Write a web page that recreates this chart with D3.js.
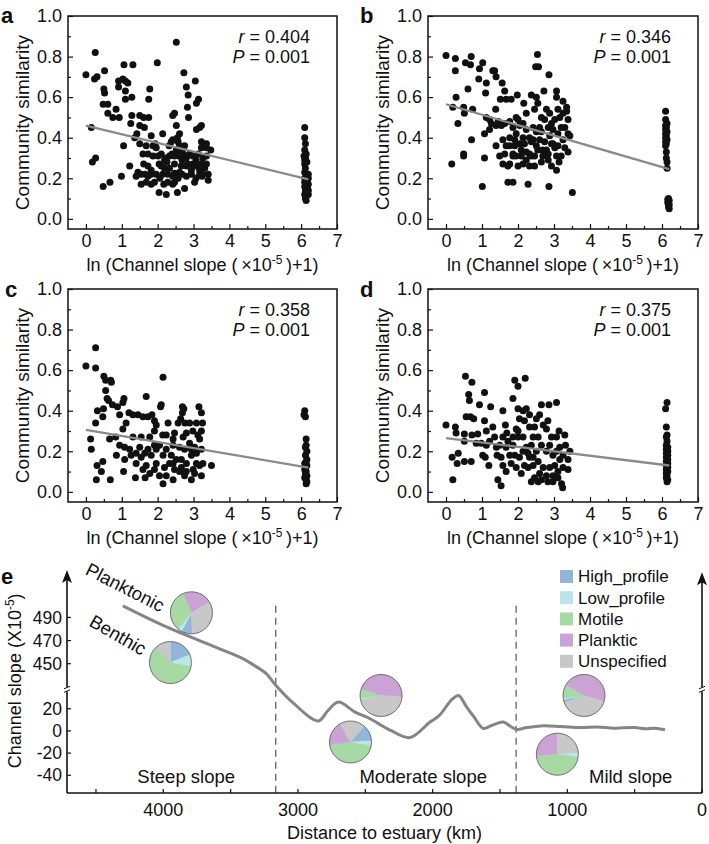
<!DOCTYPE html>
<html><head><meta charset="utf-8">
<script src="https://cdn.jsdelivr.net/npm/d3@7"></script>
<style>
body{margin:0;background:#fff}
svg{display:block}
text{font-family:Arial,"Liberation Sans",Helvetica,sans-serif;fill:#111}
</style></head>
<body><svg id="chart" width="709" height="844"></svg>
<script>
// ---------------- DATA ----------------
const xTicks = [0,1,2,3,4,5,6,7];
const yTicks = [0,0.2,0.4,0.6,0.8,1.0];

const panelA = [[0,0.71],[0.26,0.82],[0.24,0.69],[0.31,0.70],[0.52,0.73],[0.50,0.64],[0.52,0.62],[0.48,0.565],[0.61,0.565],[0.61,0.52],[0.75,0.50],[0.84,0.54],[0.91,0.68],[0.91,0.65],[0.93,0.50],[1.06,0.76],[1.03,0.69],[1.10,0.68],[1.17,0.67],[1.10,0.63],[1.10,0.59],[1.31,0.76],[1.28,0.60],[1.28,0.51],[1.25,0.47],[1.36,0.40],[1.42,0.42],[1.50,0.51],[1.50,0.46],[1.61,0.50],[1.63,0.45],[1.75,0.50],[1.75,0.59],[1.78,0.64],[1.99,0.77],[1.82,0.41],[1.87,0.36],[1.68,0.36],[1.61,0.27],[1.73,0.26],[1.82,0.24],[1.93,0.37],[1.96,0.35],[2.10,0.32],[2.14,0.42],[2.04,0.27],[2.10,0.26],[2.19,0.25],[2.23,0.30],[2.26,0.28],[2.32,0.36],[2.38,0.38],[2.42,0.51],[2.47,0.52],[2.52,0.46],[2.55,0.40],[2.57,0.38],[2.52,0.87],[2.73,0.72],[2.80,0.65],[2.85,0.61],[2.83,0.55],[2.86,0.50],[3.05,0.68],[3.14,0.59],[3.08,0.57],[3.17,0.45],[3.08,0.44],[3.22,0.46],[3.22,0.38],[3.29,0.36],[3.36,0.35],[3.48,0.34],[3.36,0.31],[3.26,0.30],[3.17,0.24],[3.31,0.25],[3.41,0.22],[3.41,0.19],[3.17,0.22],[3.03,0.18],[2.94,0.24],[2.80,0.26],[2.80,0.30],[2.71,0.32],[2.66,0.26],[2.68,0.22],[2.61,0.23],[2.47,0.225],[2.47,0.18],[2.42,0.17],[2.28,0.18],[2.17,0.17],[2.04,0.13],[2.24,0.12],[2.55,0.13],[2.75,0.15],[1.91,0.18],[1.82,0.17],[1.68,0.18],[1.54,0.17],[1.65,0.22],[1.40,0.21],[1.22,0.26],[0.99,0.21],[0.67,0.18],[0.48,0.16],[0.27,0.30],[0.18,0.28],[0.15,0.45],[1.05,0.36],[1.50,0.37],[1.59,0.32],[1.73,0.32],[1.87,0.31],[2.01,0.31],[2.19,0.29],[2.33,0.31],[2.40,0.32],[2.47,0.31],[2.52,0.34],[2.61,0.36],[2.68,0.33],[2.75,0.31],[2.89,0.32],[2.98,0.31],[3.07,0.29],[2.98,0.27],[2.84,0.27],[3.06,0.26],[3.22,0.27],[3.36,0.27],[3.36,0.37],[3.22,0.35],[3.13,0.32],[2.47,0.27],[2.33,0.25],[2.28,0.22],[2.14,0.22],[2.06,0.20],[1.96,0.22],[1.82,0.22],[1.73,0.21],[1.54,0.22],[1.45,0.23],[2.42,0.21],[2.57,0.20],[2.80,0.21],[2.94,0.22],[3.07,0.20],[3.24,0.21],[3.26,0.22],[2.68,0.29],[2.59,0.31],[2.75,0.36],[2.42,0.39],[2.61,0.42],
[6.1,0.45],[6.1,0.40],[6.12,0.37],[6.1,0.34],[6.14,0.32],[6.08,0.31],[6.12,0.30],[6.1,0.29],[6.16,0.28],[6.1,0.27],[6.12,0.25],[6.1,0.23],[6.14,0.21],[6.1,0.20],[6.18,0.19],[6.1,0.18],[6.16,0.17],[6.1,0.16],[6.18,0.15],[6.12,0.14],[6.16,0.13],[6.1,0.12],[6.14,0.11],[6.12,0.10],[6.14,0.09],[6.2,0.20],[6.2,0.17],[6.2,0.14],[6.2,0.12],[6.2,0.22]];

const panelB = [[0,0.805],[0.26,0.79],[0.26,0.73],[0.54,0.77],[0.70,0.80],[0.68,0.76],[0.93,0.74],[1.02,0.77],[0.91,0.69],[1.12,0.67],[0.61,0.64],[0.49,0.55],[0.51,0.52],[0.74,0.54],[0.28,0.60],[0.19,0.55],[0.33,0.47],[0.71,0.39],[0.49,0.32],[0.49,0.31],[0.16,0.27],[1.01,0.16],[1.07,0.30],[1.07,0.42],[1.12,0.50],[1.10,0.62],[1.21,0.44],[1.26,0.47],[1.30,0.73],[1.35,0.73],[1.39,0.70],[1.38,0.54],[1.45,0.48],[1.51,0.59],[1.56,0.67],[1.63,0.63],[1.67,0.59],[1.63,0.47],[1.54,0.46],[1.39,0.36],[1.58,0.39],[1.63,0.32],[1.72,0.26],[1.72,0.18],[1.86,0.18],[1.77,0.40],[1.81,0.59],[1.98,0.61],[2.00,0.49],[1.91,0.36],[1.86,0.31],[2.00,0.26],[2.09,0.34],[2.14,0.40],[2.16,0.57],[2.23,0.52],[2.28,0.17],[2.32,0.26],[2.37,0.31],[2.37,0.61],[2.46,0.54],[2.49,0.75],[2.54,0.81],[2.57,0.75],[2.51,0.60],[2.55,0.57],[2.51,0.43],[2.60,0.45],[2.65,0.50],[2.68,0.34],[2.72,0.63],[2.79,0.54],[2.86,0.71],[2.86,0.16],[2.93,0.47],[2.88,0.41],[2.84,0.32],[2.97,0.37],[3.07,0.63],[3.07,0.60],[3.11,0.54],[3.07,0.24],[3.14,0.28],[3.16,0.50],[3.25,0.58],[3.35,0.55],[3.39,0.49],[3.39,0.42],[3.44,0.41],[3.39,0.33],[3.51,0.13],[3.20,0.45],[3.25,0.39],[3.02,0.35],[2.74,0.38],[2.65,0.43],[2.42,0.39],[2.32,0.40],[2.18,0.37],[2.09,0.31],[1.95,0.31],[1.86,0.32],[1.77,0.27],[2.14,0.27],[2.23,0.29],[2.46,0.31],[2.55,0.34],[2.69,0.31],[2.84,0.29],[2.93,0.26],[3.07,0.31],[3.20,0.31],[3.30,0.35],[3.11,0.42],[2.97,0.44],[2.84,0.45],[2.74,0.49],[2.88,0.52],[3.02,0.49],[3.25,0.52],[3.35,0.53],[3.30,0.45],[3.11,0.36],[2.42,0.45],[2.23,0.44],[2.05,0.46],[1.95,0.42],[1.86,0.45],[1.67,0.36],[1.58,0.27],[1.49,0.31],[2.51,0.36],[2.60,0.39],[2.37,0.38],[2.32,0.32],[2.46,0.26],[2.65,0.28],[2.79,0.34],[2.93,0.37],[2.23,0.33],[2.05,0.37],[1.77,0.36],[1.91,0.39],[2.14,0.47],[1.95,0.50],[1.77,0.48],[1.39,0.46],[1.21,0.49],
[6.1,0.53],[6.1,0.49],[6.14,0.47],[6.1,0.46],[6.12,0.45],[6.1,0.44],[6.14,0.43],[6.1,0.42],[6.12,0.41],[6.1,0.40],[6.14,0.39],[6.1,0.38],[6.12,0.37],[6.1,0.36],[6.12,0.33],[6.12,0.30],[6.14,0.28],[6.14,0.25],[6.18,0.10],[6.16,0.095],[6.2,0.09],[6.16,0.08],[6.2,0.07],[6.18,0.06],[6.2,0.05]];

const panelC = [[0,0.62],[0.27,0.71],[0.27,0.61],[0.5,0.57],[0.55,0.55],[0.69,0.55],[0.71,0.54],[0.55,0.50],[0.59,0.46],[0.63,0.45],[0.32,0.40],[0.49,0.41],[0.74,0.43],[0.88,0.42],[1.06,0.46],[1.03,0.44],[0.27,0.34],[0.13,0.26],[0.15,0.21],[0.47,0.37],[0.66,0.26],[0.83,0.27],[0.94,0.38],[0.94,0.23],[1.08,0.22],[2.15,0.565],[1.20,0.39],[1.31,0.38],[1.45,0.38],[1.59,0.37],[1.73,0.37],[1.84,0.38],[1.68,0.47],[2.10,0.43],[2.08,0.42],[1.91,0.35],[1.96,0.33],[2.29,0.34],[2.24,0.28],[2.14,0.28],[2.47,0.29],[2.57,0.34],[2.69,0.42],[2.73,0.41],[2.69,0.39],[2.64,0.36],[2.76,0.34],[2.80,0.29],[2.89,0.34],[3.08,0.34],[3.15,0.42],[3.22,0.39],[3.25,0.34],[3.22,0.30],[3.17,0.26],[3.22,0.21],[3.50,0.13],[3.26,0.14],[3.22,0.08],[2.99,0.11],[2.94,0.06],[2.75,0.08],[2.61,0.10],[2.43,0.06],[2.24,0.08],[2.15,0.04],[2.05,0.08],[1.91,0.11],[1.78,0.09],[1.65,0.07],[1.38,0.07],[1.05,0.10],[0.68,0.06],[0.43,0.10],[0.29,0.06],[0.31,0.13],[0.47,0.15],[0.85,0.18],[1.08,0.16],[1.26,0.18],[1.40,0.14],[1.54,0.17],[1.73,0.21],[1.82,0.18],[1.96,0.21],[2.15,0.18],[2.24,0.21],[2.38,0.18],[2.43,0.14],[2.52,0.16],[2.66,0.16],[2.80,0.14],[2.94,0.18],[3.08,0.14],[3.17,0.13],[1.50,0.22],[1.64,0.19],[1.91,0.23],[2.05,0.23],[2.43,0.23],[2.61,0.22],[2.75,0.21],[2.89,0.24],[3.03,0.22],[3.08,0.19],[2.94,0.21],[2.33,0.14],[2.19,0.12],[2.47,0.11],[2.80,0.10],[2.66,0.12],[3.03,0.09],[1.96,0.14],[1.68,0.13],[1.59,0.11],[1.40,0.19],[1.22,0.21],[1.31,0.27],[1.54,0.27],[1.78,0.27],[1.91,0.30],[2.43,0.26],[2.71,0.27],[2.98,0.30],[3.12,0.28],[1.12,0.34],[1.03,0.31],
[6.1,0.40],[6.08,0.38],[6.12,0.37],[6.14,0.26],[6.14,0.23],[6.12,0.22],[6.16,0.20],[6.12,0.18],[6.16,0.16],[6.14,0.15],[6.1,0.14],[6.16,0.13],[6.12,0.12],[6.1,0.11],[6.14,0.10],[6.12,0.09],[6.16,0.08],[6.1,0.07],[6.14,0.06],[6.16,0.05],[6.14,0.04]];

const panelD = [[0,0.33],[0.26,0.32],[0.28,0.29],[0.17,0.17],[0.19,0.06],[0.31,0.14],[0.34,0.19],[0.51,0.25],[0.51,0.285],[0.54,0.57],[0.63,0.48],[0.65,0.45],[0.72,0.54],[0.56,0.37],[0.68,0.37],[0.77,0.36],[0.51,0.15],[0.70,0.15],[0.72,0.28],[0.88,0.285],[0.93,0.43],[1.07,0.49],[1.07,0.35],[1.12,0.30],[1.02,0.18],[1.09,0.17],[1.19,0.13],[1.24,0.42],[1.30,0.32],[1.35,0.27],[1.42,0.18],[1.44,0.06],[1.53,0.03],[1.58,0.40],[1.65,0.33],[1.69,0.29],[1.86,0.46],[1.91,0.55],[2.00,0.52],[2.20,0.56],[2.00,0.41],[2.14,0.40],[2.04,0.36],[1.95,0.31],[2.00,0.27],[1.86,0.23],[1.91,0.18],[1.81,0.14],[1.67,0.10],[1.58,0.13],[1.77,0.18],[2.14,0.20],[2.32,0.17],[2.28,0.12],[2.46,0.07],[2.56,0.05],[2.37,0.05],[2.65,0.06],[2.83,0.05],[2.97,0.05],[3.21,0.04],[3.24,0.02],[3.11,0.07],[2.88,0.12],[3.02,0.13],[3.16,0.16],[3.25,0.18],[3.39,0.16],[3.39,0.11],[3.44,0.20],[3.30,0.28],[3.32,0.23],[3.14,0.30],[3.07,0.27],[2.93,0.27],[2.83,0.35],[2.86,0.43],[2.65,0.43],[2.60,0.38],[2.51,0.36],[2.70,0.33],[2.56,0.27],[2.42,0.27],[2.32,0.32],[2.32,0.38],[2.23,0.41],[2.18,0.35],[3.07,0.44],[2.79,0.31],[2.65,0.23],[2.79,0.20],[2.51,0.20],[2.37,0.23],[2.23,0.22],[2.14,0.27],[1.67,0.22],[1.49,0.23],[1.40,0.22],[1.53,0.17],[2.04,0.17],[2.18,0.13],[2.42,0.13],[2.56,0.15],[2.70,0.12],[2.60,0.09],[2.79,0.08],[2.97,0.08],[3.11,0.10],[3.25,0.12],[1.95,0.12],[2.09,0.09],[1.86,0.27],[1.72,0.25],[1.58,0.27],[1.21,0.25],[0.98,0.24],[0.84,0.24],[1.12,0.23],[2.88,0.23],[2.97,0.18],[3.07,0.20],[3.16,0.22],[2.00,0.30],[2.46,0.32],[2.28,0.19],[2.42,0.17],
[6.14,0.44],[6.1,0.41],[6.12,0.32],[6.14,0.28],[6.12,0.27],[6.14,0.25],[6.12,0.23],[6.16,0.22],[6.12,0.21],[6.16,0.20],[6.12,0.19],[6.16,0.18],[6.12,0.17],[6.16,0.16],[6.12,0.15],[6.16,0.14],[6.12,0.13],[6.16,0.12],[6.12,0.11],[6.16,0.10],[6.12,0.09],[6.14,0.08],[6.12,0.07],[6.16,0.06],[6.14,0.05]];

const fitA = [[0,0.46],[6.2,0.195]];
const fitB = [[0,0.565],[6.2,0.245]];
const fitC = [[0,0.305],[6.2,0.12]];
const fitD = [[0,0.265],[6.2,0.13]];
const statR = ["0.404","0.346","0.358","0.375"];
const statP = ["0.001","0.001","0.001","0.001"];

// panel e
const profileDist  = [4300,3980,3627,3420,3331,3232,3170,3034,2849,2780,2700,2576,2465,2320,2168,2020,1950,1860,1808,1750,1695,1624,1560,1475,1420,1376,1300,1200,1050,900,780,650,500,420,350,275];
const profileSlope = [500,482,465,455,449,441,432,25,9,18,26,17,11,1,-6,8,14,28,32,22,13,2.3,5,8,4,1.4,3,4.5,4,3,3.5,2.5,3,2,2.5,1];
const eYTicks = [490,470,450,20,0,-20,-40];
const eXTicks = [4000,3000,2000,1000,0];
const eXMinor = [4500,3500,2500,1500,500];
const zoneBounds = [3165,1380];
const zoneNames = ["Steep slope","Moderate slope","Mild slope"];
const zoneCenters = [3830,2070,530];
const groups = ["High_profile","Low_profile","Motile","Planktic","Unspecified"];
const groupColors = ["#92b6d9","#bae6e8","#a7d9a5","#caa2d4","#c8c8c8"];
const pieValues = [[30,11,117,84,118],[68,32,216,2,42],[3,3,26,166,162],[47,13,162,69,69],[8,3,39,167,143],[2,11,168,95,84]];
const pieDist  = [3791,3947,2383,2610,876,1074];
const pieSlope = [494,451,32,-10,32,-21];
const pieStartDeg = [178,0,256,40,250,84];

// ---------------- DRAW ----------------
const svg = d3.select("#chart");

function scatter(box, pts, fit, r, p, letter){
  const x = d3.scaleLinear().domain([-0.5,7]).range([box.l, box.r]);
  const y = d3.scaleLinear().domain([-0.05,1.0]).range([box.b, box.t]);
  const g = svg.append("g");
  g.append("g").attr("transform",`translate(0,${box.b})`)
    .call(d3.axisBottom(x).tickValues(d3.range(0.5,7,1)).tickSize(-3).tickFormat(""))
    .call(s=>s.select(".domain").remove());
  g.append("g").attr("transform",`translate(${box.l},0)`)
    .call(d3.axisLeft(y).tickValues(d3.range(0.1,1.0,0.2)).tickSize(-3).tickFormat(""))
    .call(s=>s.select(".domain").remove());
  const xa = g.append("g").attr("transform",`translate(0,${box.b})`)
    .call(d3.axisBottom(x).tickValues(xTicks).tickSize(-5).tickPadding(5).tickFormat(d3.format("d")));
  xa.select(".domain").remove();
  const ya = g.append("g").attr("transform",`translate(${box.l},0)`)
    .call(d3.axisLeft(y).tickValues(yTicks).tickSize(-5).tickPadding(6).tickFormat(d3.format(".1f")));
  ya.select(".domain").remove();
  g.selectAll(".tick line").attr("stroke","#111").attr("stroke-width",1.2);
  g.selectAll(".tick text").attr("font-size",18).attr("fill","#111").style("font-family","Arial,'Liberation Sans',sans-serif");
  g.append("rect").attr("x",box.l).attr("y",box.t).attr("width",box.r-box.l).attr("height",box.b-box.t)
    .attr("fill","none").attr("stroke","#111").attr("stroke-width",1.5);
  g.append("g").selectAll("circle").data(pts).join("circle")
    .attr("cx",d=>x(d[0])).attr("cy",d=>y(d[1])).attr("r",3.5).attr("fill","#111");
  g.append("line").attr("x1",x(fit[0][0])).attr("y1",y(fit[0][1])).attr("x2",x(fit[1][0])).attr("y2",y(fit[1][1]))
    .attr("stroke","#8a8a8a").attr("stroke-width",2.3);
  const t1 = g.append("text").attr("x",box.r-27).attr("y",box.t+27).attr("text-anchor","end").attr("font-size",18);
  t1.append("tspan").attr("font-style","italic").text("r");
  t1.append("tspan").text(" = "+r);
  const t2 = g.append("text").attr("x",box.r-27).attr("y",box.t+47).attr("text-anchor","end").attr("font-size",18);
  t2.append("tspan").attr("font-style","italic").text("P");
  t2.append("tspan").text(" = "+p);
  g.append("text").attr("transform",`translate(${box.l-39},${(box.t+box.b)/2}) rotate(-90)`)
    .attr("text-anchor","middle").attr("font-size",19).text("Community similarity");
  const xt = g.append("text").attr("x",(box.l+box.r)/2).attr("y",box.b+42).attr("text-anchor","middle").attr("font-size",18);
  xt.append("tspan").text("ln (Channel slope (\u2009\u00d710");
  xt.append("tspan").attr("font-size",12).attr("dy",-7).text("-5");
  xt.append("tspan").attr("dy",7).text("\u2009)+1)");
  svg.append("text").attr("x",letter.x).attr("y",letter.y).attr("font-size",22).attr("font-weight","bold").text(letter.t);
}

scatter({l:68,r:337,t:16,b:229}, panelA, fitA, statR[0], statP[0], {x:1,y:23,t:"a"});
scatter({l:428,r:698,t:16,b:229}, panelB, fitB, statR[1], statP[1], {x:360,y:23,t:"b"});
scatter({l:68,r:337,t:289,b:502}, panelC, fitC, statR[2], statP[2], {x:5,y:297,t:"c"});
scatter({l:428,r:698,t:289,b:502}, panelD, fitD, statR[3], statP[3], {x:360,y:297,t:"d"});

// ---------- panel e ----------
const ex = d3.scaleLinear().domain([4715,0]).range([67,702]);
const ey = d3.scaleLinear().domain([-56,38,429,531]).range([793,688.8,688,570]);
const ge = svg.append("g");
svg.append("text").attr("x",1).attr("y",584).attr("font-size",22).attr("font-weight","bold").text("e");

ge.selectAll("line.zone").data(zoneBounds).join("line").attr("class","zone")
  .attr("x1",d=>ex(d)).attr("x2",d=>ex(d)).attr("y1",ey(500)).attr("y2",ey(-56))
  .attr("stroke","#555").attr("stroke-width",1.2).attr("stroke-dasharray","7,5");

const prof = profileDist.map((d,i)=>[d,profileSlope[i]]);
ge.append("path").datum(prof)
  .attr("d",d3.line().x(d=>ex(d[0])).y(d=>ey(d[1])).curve(d3.curveCatmullRom.alpha(0.5)))
  .attr("fill","none").attr("stroke","#858585").attr("stroke-width",3).attr("stroke-linejoin","round");

const axG = ge.append("g").attr("stroke","#111").attr("stroke-width",1.6).attr("fill","none");
axG.append("line").attr("x1",ex(4715)).attr("x2",ex(0)).attr("y1",ey(-56)).attr("y2",ey(-56));
axG.append("line").attr("x1",ex(4715)).attr("x2",ex(4715)).attr("y1",ey(-56)).attr("y2",ey(528));
axG.append("line").attr("x1",ex(0)).attr("x2",ex(0)).attr("y1",ey(-56)).attr("y2",ey(526));
[[4715,531],[0,529]].forEach(a=>{
  const ax=ex(a[0]), ay=ey(a[1]);
  ge.append("path").attr("d",`M${ax},${ay} L${ax-5},${ay+13} L${ax},${ay+10} L${ax+5},${ay+13} Z`).attr("fill","#111");
});
[4715,0].forEach(v=>{
  const bx=ex(v), by=ey(38)+0.5;
  ge.append("rect").attr("x",bx-3).attr("y",by-2).attr("width",6).attr("height",4).attr("fill","#fff");
  ge.append("line").attr("x1",bx-3).attr("y1",by-0.5).attr("x2",bx+3).attr("y2",by-3).attr("stroke","#111").attr("stroke-width",1);
  ge.append("line").attr("x1",bx-3).attr("y1",by+3).attr("x2",bx+3).attr("y2",by+0.5).attr("stroke","#111").attr("stroke-width",1);
});
ge.selectAll("line.ytk").data(eYTicks).join("line").attr("class","ytk")
  .attr("x1",ex(4715)).attr("x2",ex(4715)+4).attr("y1",d=>ey(d)).attr("y2",d=>ey(d)).attr("stroke","#111").attr("stroke-width",1.2);
ge.selectAll("text.ytl").data(eYTicks).join("text").attr("class","ytl")
  .attr("x",ex(4715)-5).attr("y",d=>ey(d)).attr("dy","0.35em").attr("text-anchor","end").attr("font-size",17.5).text(d=>d);
ge.selectAll("line.xtk").data(eXTicks.concat(eXMinor)).join("line").attr("class","xtk")
  .attr("x1",d=>ex(d)).attr("x2",d=>ex(d)).attr("y1",ey(-56)).attr("y2",ey(-56)-4).attr("stroke","#111").attr("stroke-width",1.2);
ge.selectAll("text.xtl").data(eXTicks).join("text").attr("class","xtl")
  .attr("x",d=>ex(d)).attr("y",ey(-56)+23).attr("text-anchor","middle").attr("font-size",18).text(d=>d);
ge.append("text").attr("x",(ex(4715)+ex(0))/2).attr("y",ey(-56)+46).attr("text-anchor","middle").attr("font-size",18).text("Distance to estuary (km)");
const yt = ge.append("text").attr("transform",`translate(21,${ey(38)-8}) rotate(-90)`).attr("text-anchor","middle").attr("font-size",18);
yt.append("tspan").text("Channel slope (X10");
yt.append("tspan").attr("font-size",12).attr("dy",-7).text("-5");
yt.append("tspan").attr("dy",7).text(")");

ge.selectAll("text.zn").data(zoneNames).join("text").attr("class","zn")
  .attr("x",(d,i)=>ex(zoneCenters[i])).attr("y",ey(-40)+8).attr("text-anchor","middle").attr("font-size",18.5).text(d=>d);

ge.append("text").attr("transform",`translate(${ex(4305)},${ey(511)}) rotate(27)`).attr("text-anchor","middle").attr("font-size",18.5).text("Planktonic");
ge.append("text").attr("transform",`translate(${ex(4360)},${ey(470)}) rotate(30)`).attr("text-anchor","middle").attr("font-size",18.5).text("Benthic");

const arc = d3.arc().innerRadius(0).outerRadius(21);
pieValues.forEach((vals,i)=>{
  const s = pieStartDeg[i]*Math.PI/180;
  const pie = d3.pie().sort(null).value(d=>d).startAngle(s).endAngle(s+2*Math.PI);
  const pg = ge.append("g").attr("transform",`translate(${ex(pieDist[i])},${ey(pieSlope[i])})`);
  pg.selectAll("path").data(pie(vals)).join("path").attr("d",arc).attr("fill",(d,j)=>groupColors[j]).attr("stroke",(d,j)=>groupColors[j]).attr("stroke-width",0.3);
  pg.append("circle").attr("r",21).attr("fill","none").attr("stroke","#666").attr("stroke-width",0.9);
});

const lg = ge.append("g").attr("transform","translate(560,570)");
groups.forEach((gname,i)=>{
  lg.append("rect").attr("x",0).attr("y",i*21.2).attr("width",13).attr("height",13).attr("fill",groupColors[i]);
  lg.append("text").attr("x",18).attr("y",i*21.2+6.5).attr("dy","0.35em").attr("font-size",17).text(gname);
});
</script></body></html>
